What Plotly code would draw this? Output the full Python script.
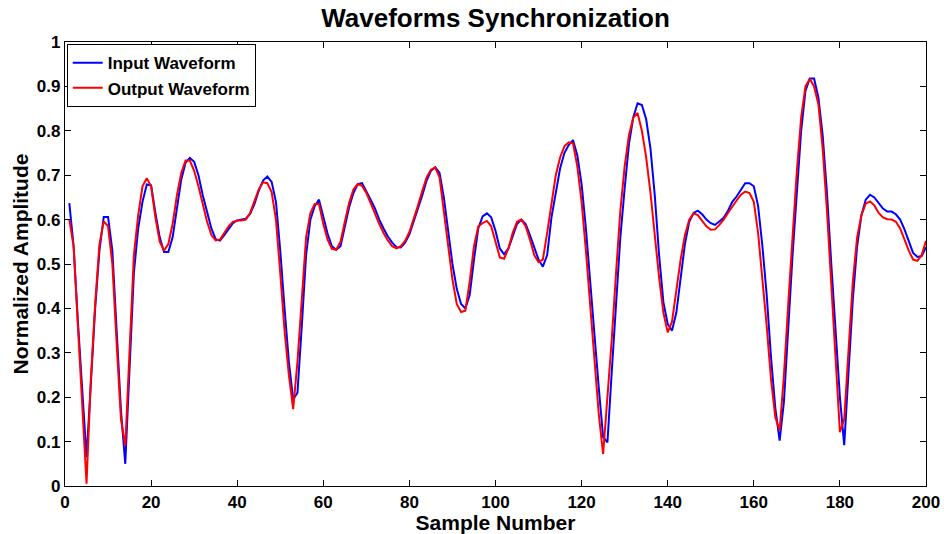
import plotly.graph_objects as go

# Sample index for both waveforms
samples = list(range(1, 201))

input_wave = [
    0.637, 0.54, 0.37, 0.21, 0.065, 0.23, 0.40, 0.53, 0.606, 0.606,
    0.53, 0.35, 0.17, 0.05, 0.27, 0.48, 0.58, 0.64, 0.679, 0.677,
    0.615, 0.56, 0.527, 0.527, 0.56, 0.63, 0.69, 0.728, 0.739, 0.73,
    0.70, 0.655, 0.615, 0.58, 0.556, 0.553, 0.565, 0.58, 0.592, 0.598,
    0.60, 0.602, 0.613, 0.635, 0.665, 0.688, 0.697, 0.685, 0.64, 0.53,
    0.40, 0.28, 0.195, 0.21, 0.36, 0.52, 0.60, 0.63, 0.645, 0.605,
    0.568, 0.54, 0.532, 0.54, 0.585, 0.628, 0.66, 0.68, 0.682, 0.665,
    0.645, 0.625, 0.60, 0.58, 0.562, 0.548, 0.538, 0.537, 0.548, 0.567,
    0.595, 0.625, 0.655, 0.688, 0.71, 0.718, 0.705, 0.65, 0.575, 0.50,
    0.444, 0.41, 0.40, 0.43, 0.51, 0.58, 0.607, 0.614, 0.605, 0.575,
    0.535, 0.522, 0.535, 0.565, 0.59, 0.60, 0.59, 0.565, 0.535, 0.51,
    0.494, 0.52, 0.605, 0.665, 0.715, 0.75, 0.768, 0.779, 0.745, 0.68,
    0.58, 0.46, 0.33, 0.22, 0.11, 0.098, 0.257, 0.42, 0.56, 0.67,
    0.77, 0.83, 0.862, 0.858, 0.826, 0.76, 0.654, 0.52, 0.414, 0.365,
    0.35, 0.39, 0.47, 0.545, 0.595, 0.615, 0.62, 0.612, 0.60, 0.592,
    0.588, 0.595, 0.604, 0.62, 0.64, 0.652, 0.668, 0.682, 0.682, 0.675,
    0.631, 0.54, 0.43, 0.29, 0.175, 0.102, 0.19, 0.36, 0.52, 0.66,
    0.80, 0.89, 0.918, 0.918, 0.875, 0.79, 0.66, 0.50, 0.35, 0.20,
    0.092, 0.25, 0.42, 0.54, 0.61, 0.645, 0.656, 0.65, 0.638, 0.625,
    0.618, 0.618, 0.612, 0.60, 0.578, 0.55, 0.525, 0.516, 0.518, 0.538,
]

output_wave = [
    0.60, 0.54, 0.36, 0.18, 0.005, 0.24, 0.41, 0.545, 0.596, 0.585,
    0.50, 0.32, 0.15, 0.09, 0.32, 0.52, 0.61, 0.675, 0.693, 0.675,
    0.605, 0.55, 0.53, 0.545, 0.59, 0.655, 0.705, 0.733, 0.733, 0.71,
    0.675, 0.635, 0.595, 0.565, 0.553, 0.555, 0.57, 0.585, 0.595, 0.598,
    0.598, 0.60, 0.615, 0.64, 0.668, 0.684, 0.682, 0.662, 0.60, 0.48,
    0.35, 0.25, 0.173, 0.28, 0.43, 0.56, 0.615, 0.635, 0.635, 0.59,
    0.555, 0.534, 0.532, 0.55, 0.595, 0.638, 0.668, 0.68, 0.676, 0.66,
    0.637, 0.613, 0.59, 0.57, 0.553, 0.54, 0.535, 0.54, 0.552, 0.572,
    0.60, 0.632, 0.665, 0.695, 0.712, 0.717, 0.695, 0.62, 0.54, 0.465,
    0.41, 0.392, 0.395, 0.46, 0.54, 0.585, 0.592, 0.597, 0.585, 0.55,
    0.515, 0.512, 0.535, 0.57, 0.595, 0.60, 0.585, 0.555, 0.52, 0.504,
    0.51, 0.57, 0.64, 0.70, 0.74, 0.765, 0.774, 0.772, 0.72, 0.64,
    0.53, 0.40, 0.27, 0.16, 0.072, 0.20, 0.33, 0.48, 0.62, 0.72,
    0.79, 0.83, 0.84, 0.80, 0.74, 0.66, 0.56, 0.47, 0.39, 0.346,
    0.37, 0.44, 0.51, 0.565, 0.60, 0.614, 0.61, 0.597, 0.585, 0.577,
    0.578, 0.588, 0.60, 0.615, 0.63, 0.643, 0.656, 0.663, 0.66, 0.64,
    0.57, 0.47, 0.36, 0.24, 0.155, 0.125, 0.25, 0.41, 0.57, 0.71,
    0.83, 0.90, 0.917, 0.90, 0.86, 0.76, 0.62, 0.46, 0.30, 0.121,
    0.15, 0.30, 0.46, 0.56, 0.61, 0.636, 0.641, 0.632, 0.615, 0.605,
    0.601, 0.60, 0.595, 0.58, 0.555, 0.53, 0.51, 0.507, 0.52, 0.552,
]

x_ticks = list(range(0, 201, 20))
y_ticks = [i / 10 for i in range(11)]
y_tick_text = ["0"] + [f"{v:g}" for v in y_ticks[1:-1]] + ["1"]

FONT = "Liberation Sans, Arial, Helvetica, sans-serif"

fig = go.Figure()
fig.add_trace(go.Scatter(x=samples, y=input_wave, mode="lines",
                         name="Input Waveform",
                         line=dict(color="#0000ff", width=2)))
fig.add_trace(go.Scatter(x=samples, y=output_wave, mode="lines",
                         name="Output Waveform",
                         line=dict(color="#ff0000", width=2)))

axis_common = dict(
    showline=True, linecolor="black", linewidth=1.3, mirror="ticks",
    ticks="inside", ticklen=6, tickwidth=1, tickcolor="black",
    showgrid=False, zeroline=False, automargin=False,
    tickfont=dict(family=FONT, size=17, color="black", weight="bold"),
)

fig.update_layout(
    width=944, height=534,
    margin=dict(l=65, r=18, t=42, b=48),
    paper_bgcolor="white", plot_bgcolor="white",
    title=dict(text="Waveforms Synchronization", xref="paper", x=0.5,
               xanchor="center", y=0.967, yanchor="middle",
               font=dict(family=FONT, size=26, color="black", weight="bold")),
    xaxis=dict(range=[0, 200], tickvals=x_ticks,
               title=dict(text="Sample Number", standoff=2,
                          font=dict(family=FONT, size=21, color="black", weight="bold")),
               **axis_common),
    yaxis=dict(range=[0, 1], tickvals=y_ticks, ticktext=y_tick_text,
               title=dict(text="Normalized Amplitude", standoff=2,
                          font=dict(family=FONT, size=21, color="black", weight="bold")),
               **axis_common),
    legend=dict(x=0.002, y=0.995, xanchor="left", yanchor="top",
                bgcolor="white", bordercolor="black", borderwidth=1,
                font=dict(family=FONT, size=17, color="black", weight="bold"),
                tracegroupgap=0, itemwidth=30),
    showlegend=True,
)

fig.write_html("out.html")
